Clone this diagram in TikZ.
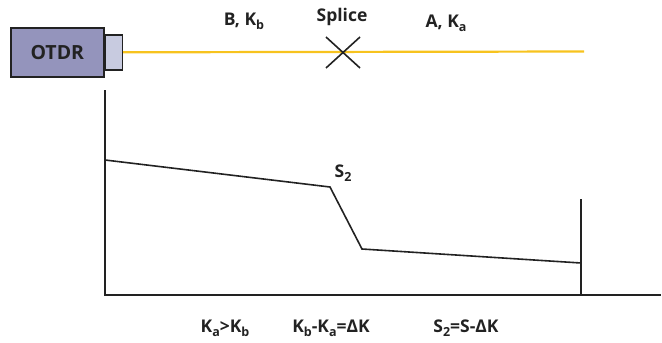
\documentclass[tikz,border=0pt]{standalone}
\usepackage{fontspec}
\setmainfont{Open Sans}
\newcommand{\lowidx}[1]{\raisebox{-0.45ex}{\fontsize{12.5}{13}\selectfont #1}}
\definecolor{boxfill}{HTML}{9494BC}
\definecolor{connfill}{HTML}{C8CBE0}
\definecolor{fiber}{HTML}{F7C31E}
\definecolor{ink}{HTML}{222222}
\tikzset{
  lbl/.style={font=\fontsize{17.5}{20}\selectfont\bfseries, text=ink, inner sep=0pt},
  axis/.style={line width=1.8pt, draw=ink},
  trace/.style={line width=1.6pt, draw=ink, line join=miter},
}
\begin{document}
\begin{tikzpicture}[x=1pt,y=-1pt]
\useasboundingbox (0,0) rectangle (662,343);
% OTDR
\node[draw=ink, line width=1.6pt, fill=boxfill, minimum width=93pt, minimum height=49pt, anchor=north west, inner sep=0pt] (otdr) at (10,27) {};
\node[lbl, font=\fontsize{19.5}{22}\selectfont\bfseries] at (otdr.center) {OTDR};
\node[draw=ink, line width=1.4pt, fill=connfill, minimum width=17pt, minimum height=35pt, anchor=west, inner sep=0pt] (conn) at (otdr.east) {};
% fiber
\coordinate (fend) at (584,51.5);
\draw[fiber, line width=2.2pt] (conn.east) -- (fend);
% splice
\coordinate (sp) at (342,51);
\draw[ink, line width=1.6pt] (326,37) -- (360,68) (326,68) -- (360,37);
\node[lbl] (splice) at (342,17) {Splice};
\node[lbl] (bkb) at (244,21) {B, K\lowidx{b}};
\node[lbl] (aka) at (446,23) {A, K\lowidx{a}};
% axes
\coordinate (ytop) at (105,90);
\coordinate (orig) at (105,295);
\coordinate (xend) at (661,295);
\draw[axis] (ytop) -- (orig) -- (xend);
% trace
\coordinate (t0) at (105,160);
\coordinate (t1) at (330,187);
\coordinate (t2) at (362,249);
\coordinate (t3) at (581,263);
\draw[trace] (t0) -- (t1) -- (t2) -- (t3);
\coordinate (etop) at (581,199);
\coordinate (ebot) at (581,295);
\draw[axis] (etop) -- (ebot);
\node[lbl] (s2) at (343,173) {S\lowidx{2}};
% bottom labels
\node[lbl] (c1) at (225,328) {K\lowidx{a}>K\lowidx{b}};
\node[lbl] (c2) at (331,328) {K\lowidx{b}-K\lowidx{a}=ΔK};
\node[lbl] (c3) at (466,328) {S\lowidx{2}=S-ΔK};
\end{tikzpicture}
\end{document}
